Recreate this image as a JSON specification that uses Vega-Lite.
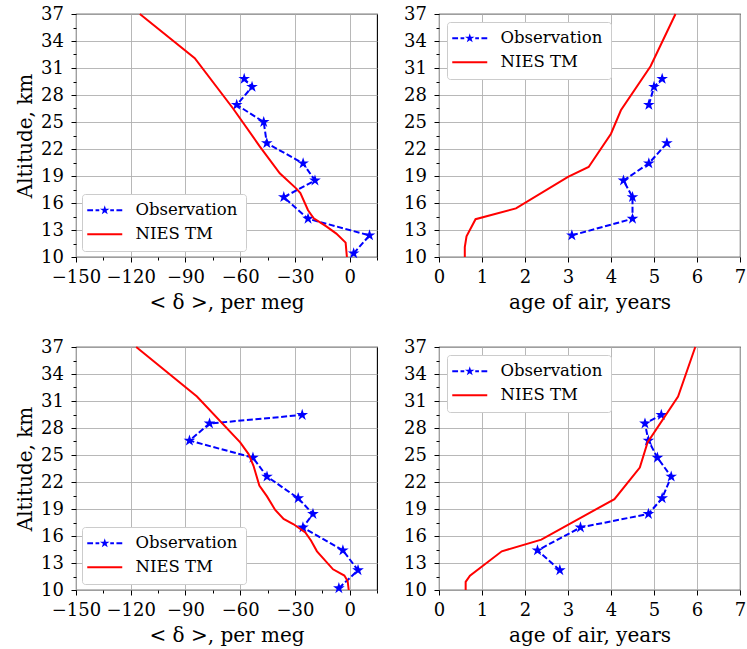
{
  "$schema": "https://vega.github.io/schema/vega-lite/v6.json",
  "autosize": {"type": "none"},
  "padding": {"left": 76, "top": 14, "right": 671, "bottom": 635},
  "background": "white",
  "datasets": {
    "d": [
      {"p":"tl","s":"Observation","a":29.8,"v":-57.8},
      {"p":"tl","s":"Observation","a":28.9,"v":-53.5},
      {"p":"tl","s":"Observation","a":26.9,"v":-61.9},
      {"p":"tl","s":"Observation","a":25.0,"v":-47.1},
      {"p":"tl","s":"Observation","a":22.65,"v":-45.4},
      {"p":"tl","s":"Observation","a":20.4,"v":-25.5},
      {"p":"tl","s":"Observation","a":18.5,"v":-19.0},
      {"p":"tl","s":"Observation","a":16.65,"v":-36.1},
      {"p":"tl","s":"Observation","a":14.25,"v":-22.8},
      {"p":"tl","s":"Observation","a":12.4,"v":10.9},
      {"p":"tl","s":"Observation","a":10.4,"v":2.2},
      {"p":"tl","s":"NIES TM","a":37,"v":-115},
      {"p":"tl","s":"NIES TM","a":32.1,"v":-84.9},
      {"p":"tl","s":"NIES TM","a":26.5,"v":-63.9},
      {"p":"tl","s":"NIES TM","a":22.3,"v":-49.3},
      {"p":"tl","s":"NIES TM","a":19.3,"v":-38.3},
      {"p":"tl","s":"NIES TM","a":17.6,"v":-29.2},
      {"p":"tl","s":"NIES TM","a":17.1,"v":-27.0},
      {"p":"tl","s":"NIES TM","a":15.2,"v":-22.8},
      {"p":"tl","s":"NIES TM","a":14.3,"v":-19.7},
      {"p":"tl","s":"NIES TM","a":13.4,"v":-12.8},
      {"p":"tl","s":"NIES TM","a":12.6,"v":-7.3},
      {"p":"tl","s":"NIES TM","a":11.6,"v":-2.2},
      {"p":"tl","s":"NIES TM","a":10,"v":-1.5},
      {"p":"tr","s":"Observation","a":29.8,"v":5.19},
      {"p":"tr","s":"Observation","a":28.9,"v":5.0},
      {"p":"tr","s":"Observation","a":26.9,"v":4.88},
      {"p":"tr","s":"Observation","a":25.0,"v":null},
      {"p":"tr","s":"Observation","a":22.65,"v":5.3},
      {"p":"tr","s":"Observation","a":20.4,"v":4.88},
      {"p":"tr","s":"Observation","a":18.5,"v":4.29},
      {"p":"tr","s":"Observation","a":16.65,"v":4.5},
      {"p":"tr","s":"Observation","a":14.25,"v":4.5},
      {"p":"tr","s":"Observation","a":12.4,"v":3.09},
      {"p":"tr","s":"NIES TM","a":37,"v":5.5},
      {"p":"tr","s":"NIES TM","a":31.2,"v":4.92},
      {"p":"tr","s":"NIES TM","a":26.3,"v":4.23},
      {"p":"tr","s":"NIES TM","a":23.7,"v":4.0},
      {"p":"tr","s":"NIES TM","a":20.0,"v":3.48},
      {"p":"tr","s":"NIES TM","a":18.9,"v":3.0},
      {"p":"tr","s":"NIES TM","a":15.4,"v":1.79},
      {"p":"tr","s":"NIES TM","a":14.2,"v":0.85},
      {"p":"tr","s":"NIES TM","a":12.3,"v":0.64},
      {"p":"tr","s":"NIES TM","a":11.1,"v":0.6},
      {"p":"tr","s":"NIES TM","a":10,"v":0.6},
      {"p":"bl","s":"Observation","a":29.45,"v":-26.0},
      {"p":"bl","s":"Observation","a":28.5,"v":-76.8},
      {"p":"bl","s":"Observation","a":26.6,"v":-87.8},
      {"p":"bl","s":"Observation","a":24.7,"v":-53.0},
      {"p":"bl","s":"Observation","a":22.6,"v":-45.3},
      {"p":"bl","s":"Observation","a":20.2,"v":-28.2},
      {"p":"bl","s":"Observation","a":18.45,"v":-20.1},
      {"p":"bl","s":"Observation","a":16.95,"v":-25.6},
      {"p":"bl","s":"Observation","a":14.4,"v":-3.7},
      {"p":"bl","s":"Observation","a":12.2,"v":4.6},
      {"p":"bl","s":"Observation","a":10.2,"v":-5.9},
      {"p":"bl","s":"NIES TM","a":37,"v":-117},
      {"p":"bl","s":"NIES TM","a":31.5,"v":-83.7},
      {"p":"bl","s":"NIES TM","a":26.4,"v":-60.0},
      {"p":"bl","s":"NIES TM","a":25.1,"v":-55.4},
      {"p":"bl","s":"NIES TM","a":23.8,"v":-52.7},
      {"p":"bl","s":"NIES TM","a":21.6,"v":-49.5},
      {"p":"bl","s":"NIES TM","a":20.4,"v":-45.3},
      {"p":"bl","s":"NIES TM","a":18.9,"v":-40.8},
      {"p":"bl","s":"NIES TM","a":17.9,"v":-36.2},
      {"p":"bl","s":"NIES TM","a":17.3,"v":-30.7},
      {"p":"bl","s":"NIES TM","a":16.4,"v":-24.3},
      {"p":"bl","s":"NIES TM","a":15.5,"v":-21.2},
      {"p":"bl","s":"NIES TM","a":14.3,"v":-17.9},
      {"p":"bl","s":"NIES TM","a":12.3,"v":-9.1},
      {"p":"bl","s":"NIES TM","a":11.6,"v":-2.9},
      {"p":"bl","s":"NIES TM","a":11.0,"v":-1.1},
      {"p":"bl","s":"NIES TM","a":10,"v":-0.5},
      {"p":"br","s":"Observation","a":29.45,"v":5.17},
      {"p":"br","s":"Observation","a":28.5,"v":4.79},
      {"p":"br","s":"Observation","a":26.6,"v":4.87},
      {"p":"br","s":"Observation","a":24.7,"v":5.08},
      {"p":"br","s":"Observation","a":22.6,"v":5.4},
      {"p":"br","s":"Observation","a":20.2,"v":5.19},
      {"p":"br","s":"Observation","a":18.45,"v":4.87},
      {"p":"br","s":"Observation","a":16.95,"v":3.29},
      {"p":"br","s":"Observation","a":14.4,"v":2.29},
      {"p":"br","s":"Observation","a":12.2,"v":2.81},
      {"p":"br","s":"NIES TM","a":37,"v":5.96},
      {"p":"br","s":"NIES TM","a":31.5,"v":5.56},
      {"p":"br","s":"NIES TM","a":26.4,"v":4.85},
      {"p":"br","s":"NIES TM","a":23.6,"v":4.67},
      {"p":"br","s":"NIES TM","a":20.1,"v":4.08},
      {"p":"br","s":"NIES TM","a":15.6,"v":2.38},
      {"p":"br","s":"NIES TM","a":14.3,"v":1.46},
      {"p":"br","s":"NIES TM","a":11.6,"v":0.72},
      {"p":"br","s":"NIES TM","a":10.9,"v":0.62},
      {"p":"br","s":"NIES TM","a":10,"v":0.62}
    ]
  },
  "data": {"name": "d"},
  "columns": 2,
  "spacing": {"row": 90, "column": 62},
  "bounds": "flush",
  "resolve": {"scale": {"color": "independent", "x": "independent", "y": "independent"}, "legend": {"color": "independent"}},
  "concat": [
    {
      "width": 301, "height": 243,
      "transform": [{"filter": "datum.p === 'tl'"}],
      "encoding": {
        "x": {"field": "v", "type": "quantitative", "scale": {"domain": [-150, 15], "nice": false, "zero": false},
          "axis": {"title": "< δ >, per meg", "format": "d", "values": [-150,-135,-120,-105,-90,-75,-60,-45,-30,-15,0,15],
            "labelExpr": "datum.value % 30 === 0 ? datum.label : ''",
            "tickSize": {"condition": {"test": "datum.value % 30 === 0", "value": 5}, "value": 3},
            "gridOpacity": {"condition": {"test": "datum.value % 30 === 0", "value": 1}, "value": 0}}},
        "y": {"field": "a", "type": "quantitative", "scale": {"domain": [10, 37], "nice": false, "zero": false},
          "axis": {"title": "Altitude, km", "format": "d", "values": [10,11.5,13,14.5,16,17.5,19,20.5,22,23.5,25,26.5,28,29.5,31,32.5,34,35.5,37],
            "labelExpr": "(datum.value - 10) % 3 === 0 ? datum.label : ''",
            "tickSize": {"condition": {"test": "(datum.value - 10) % 3 === 0", "value": 5}, "value": 3},
            "gridOpacity": {"condition": {"test": "(datum.value - 10) % 3 === 0", "value": 1}, "value": 0}}},
        "color": {"field": "s", "type": "nominal", "scale": {"domain": ["Observation", "NIES TM"], "range": ["#0000ff", "#ff0000"]},
          "legend": {"orient": "bottom-left", "offset": 6,
            "encode": {"symbols": {"update": {
              "shape": {"signal": "datum.value === 'Observation' ? 'M-1.375,-0.13L-0.65,-0.13L-0.65,0.13L-1.375,0.13Z M-0.3375,-0.13L0.125,-0.13L0.125,0.13L-0.3375,0.13Z M1.5,-0.13L1.9625,-0.13L1.9625,0.13L1.5,0.13Z M2.275,-0.13L3,-0.13L3,0.13L2.275,0.13Z M0.8125,-0.625L0.9528,-0.1931L1.4069,-0.1931L1.0395,0.0738L1.1799,0.5056L0.8125,0.2387L0.4451,0.5056L0.5855,0.0738L0.2181,-0.1931L0.6722,-0.1931Z' : 'M-1.375,-0.13L3,-0.13L3,0.13L-1.375,0.13Z'"},
              "fill": {"signal": "datum.value === 'Observation' ? '#0000ff' : '#ff0000'"},
              "fillOpacity": {"value": 1}, "opacity": {"value": 1},
              "stroke": {"value": "transparent"}, "strokeWidth": {"value": 0}}}}}}
      },
      "layer": [
        {"transform": [{"filter": "datum.s === 'Observation'"}], "mark": {"type": "line", "strokeWidth": 2, "strokeDash": [6, 2.6], "invalid": "break-paths-filter-domains"}, "encoding": {"order": {"field": "a", "type": "quantitative"}}},
        {"transform": [{"filter": "datum.s === 'Observation' && isValid(datum.v)"}], "mark": {"type": "point", "shape": "M0,-1L0.2245,-0.309L0.951,-0.309L0.363,0.118L0.588,0.809L0,0.382L-0.588,0.809L-0.363,0.118L-0.951,-0.309L-0.2245,-0.309Z", "filled": true, "size": 150, "opacity": 1, "strokeWidth": 0}},
        {"transform": [{"filter": "datum.s === 'NIES TM'"}], "mark": {"type": "line", "strokeWidth": 2}, "encoding": {"order": {"field": "a", "type": "quantitative"}}}
      ]
    },
    {
      "width": 301, "height": 243,
      "transform": [{"filter": "datum.p === 'tr'"}],
      "encoding": {
        "x": {"field": "v", "type": "quantitative", "scale": {"domain": [0, 7], "nice": false, "zero": false},
          "axis": {"title": "age of air, years", "format": "d", "values": [0,0.5,1,1.5,2,2.5,3,3.5,4,4.5,5,5.5,6,6.5,7],
            "labelExpr": "datum.value % 1 === 0 ? datum.label : ''",
            "tickSize": {"condition": {"test": "datum.value % 1 === 0", "value": 5}, "value": 3},
            "gridOpacity": {"condition": {"test": "datum.value % 1 === 0", "value": 1}, "value": 0}}},
        "y": {"field": "a", "type": "quantitative", "scale": {"domain": [10, 37], "nice": false, "zero": false},
          "axis": {"title": null, "format": "d", "values": [10,11.5,13,14.5,16,17.5,19,20.5,22,23.5,25,26.5,28,29.5,31,32.5,34,35.5,37],
            "labelExpr": "(datum.value - 10) % 3 === 0 ? datum.label : ''",
            "tickSize": {"condition": {"test": "(datum.value - 10) % 3 === 0", "value": 5}, "value": 3},
            "gridOpacity": {"condition": {"test": "(datum.value - 10) % 3 === 0", "value": 1}, "value": 0}}},
        "color": {"field": "s", "type": "nominal", "scale": {"domain": ["Observation", "NIES TM"], "range": ["#0000ff", "#ff0000"]},
          "legend": {"orient": "top-left", "offset": 8,
            "encode": {"symbols": {"update": {
              "shape": {"signal": "datum.value === 'Observation' ? 'M-1.375,-0.13L-0.65,-0.13L-0.65,0.13L-1.375,0.13Z M-0.3375,-0.13L0.125,-0.13L0.125,0.13L-0.3375,0.13Z M1.5,-0.13L1.9625,-0.13L1.9625,0.13L1.5,0.13Z M2.275,-0.13L3,-0.13L3,0.13L2.275,0.13Z M0.8125,-0.625L0.9528,-0.1931L1.4069,-0.1931L1.0395,0.0738L1.1799,0.5056L0.8125,0.2387L0.4451,0.5056L0.5855,0.0738L0.2181,-0.1931L0.6722,-0.1931Z' : 'M-1.375,-0.13L3,-0.13L3,0.13L-1.375,0.13Z'"},
              "fill": {"signal": "datum.value === 'Observation' ? '#0000ff' : '#ff0000'"},
              "fillOpacity": {"value": 1}, "opacity": {"value": 1},
              "stroke": {"value": "transparent"}, "strokeWidth": {"value": 0}}}}}}
      },
      "layer": [
        {"transform": [{"filter": "datum.s === 'Observation'"}], "mark": {"type": "line", "strokeWidth": 2, "strokeDash": [6, 2.6], "invalid": "break-paths-filter-domains"}, "encoding": {"order": {"field": "a", "type": "quantitative"}}},
        {"transform": [{"filter": "datum.s === 'Observation' && isValid(datum.v)"}], "mark": {"type": "point", "shape": "M0,-1L0.2245,-0.309L0.951,-0.309L0.363,0.118L0.588,0.809L0,0.382L-0.588,0.809L-0.363,0.118L-0.951,-0.309L-0.2245,-0.309Z", "filled": true, "size": 150, "opacity": 1, "strokeWidth": 0}},
        {"transform": [{"filter": "datum.s === 'NIES TM'"}], "mark": {"type": "line", "strokeWidth": 2}, "encoding": {"order": {"field": "a", "type": "quantitative"}}}
      ]
    },
    {
      "width": 301, "height": 243,
      "transform": [{"filter": "datum.p === 'bl'"}],
      "encoding": {
        "x": {"field": "v", "type": "quantitative", "scale": {"domain": [-150, 15], "nice": false, "zero": false},
          "axis": {"title": "< δ >, per meg", "format": "d", "values": [-150,-135,-120,-105,-90,-75,-60,-45,-30,-15,0,15],
            "labelExpr": "datum.value % 30 === 0 ? datum.label : ''",
            "tickSize": {"condition": {"test": "datum.value % 30 === 0", "value": 5}, "value": 3},
            "gridOpacity": {"condition": {"test": "datum.value % 30 === 0", "value": 1}, "value": 0}}},
        "y": {"field": "a", "type": "quantitative", "scale": {"domain": [10, 37], "nice": false, "zero": false},
          "axis": {"title": "Altitude, km", "format": "d", "values": [10,11.5,13,14.5,16,17.5,19,20.5,22,23.5,25,26.5,28,29.5,31,32.5,34,35.5,37],
            "labelExpr": "(datum.value - 10) % 3 === 0 ? datum.label : ''",
            "tickSize": {"condition": {"test": "(datum.value - 10) % 3 === 0", "value": 5}, "value": 3},
            "gridOpacity": {"condition": {"test": "(datum.value - 10) % 3 === 0", "value": 1}, "value": 0}}},
        "color": {"field": "s", "type": "nominal", "scale": {"domain": ["Observation", "NIES TM"], "range": ["#0000ff", "#ff0000"]},
          "legend": {"orient": "bottom-left", "offset": 6,
            "encode": {"symbols": {"update": {
              "shape": {"signal": "datum.value === 'Observation' ? 'M-1.375,-0.13L-0.65,-0.13L-0.65,0.13L-1.375,0.13Z M-0.3375,-0.13L0.125,-0.13L0.125,0.13L-0.3375,0.13Z M1.5,-0.13L1.9625,-0.13L1.9625,0.13L1.5,0.13Z M2.275,-0.13L3,-0.13L3,0.13L2.275,0.13Z M0.8125,-0.625L0.9528,-0.1931L1.4069,-0.1931L1.0395,0.0738L1.1799,0.5056L0.8125,0.2387L0.4451,0.5056L0.5855,0.0738L0.2181,-0.1931L0.6722,-0.1931Z' : 'M-1.375,-0.13L3,-0.13L3,0.13L-1.375,0.13Z'"},
              "fill": {"signal": "datum.value === 'Observation' ? '#0000ff' : '#ff0000'"},
              "fillOpacity": {"value": 1}, "opacity": {"value": 1},
              "stroke": {"value": "transparent"}, "strokeWidth": {"value": 0}}}}}}
      },
      "layer": [
        {"transform": [{"filter": "datum.s === 'Observation'"}], "mark": {"type": "line", "strokeWidth": 2, "strokeDash": [6, 2.6], "invalid": "break-paths-filter-domains"}, "encoding": {"order": {"field": "a", "type": "quantitative"}}},
        {"transform": [{"filter": "datum.s === 'Observation' && isValid(datum.v)"}], "mark": {"type": "point", "shape": "M0,-1L0.2245,-0.309L0.951,-0.309L0.363,0.118L0.588,0.809L0,0.382L-0.588,0.809L-0.363,0.118L-0.951,-0.309L-0.2245,-0.309Z", "filled": true, "size": 150, "opacity": 1, "strokeWidth": 0}},
        {"transform": [{"filter": "datum.s === 'NIES TM'"}], "mark": {"type": "line", "strokeWidth": 2}, "encoding": {"order": {"field": "a", "type": "quantitative"}}}
      ]
    },
    {
      "width": 301, "height": 243,
      "transform": [{"filter": "datum.p === 'br'"}],
      "encoding": {
        "x": {"field": "v", "type": "quantitative", "scale": {"domain": [0, 7], "nice": false, "zero": false},
          "axis": {"title": "age of air, years", "format": "d", "values": [0,0.5,1,1.5,2,2.5,3,3.5,4,4.5,5,5.5,6,6.5,7],
            "labelExpr": "datum.value % 1 === 0 ? datum.label : ''",
            "tickSize": {"condition": {"test": "datum.value % 1 === 0", "value": 5}, "value": 3},
            "gridOpacity": {"condition": {"test": "datum.value % 1 === 0", "value": 1}, "value": 0}}},
        "y": {"field": "a", "type": "quantitative", "scale": {"domain": [10, 37], "nice": false, "zero": false},
          "axis": {"title": null, "format": "d", "values": [10,11.5,13,14.5,16,17.5,19,20.5,22,23.5,25,26.5,28,29.5,31,32.5,34,35.5,37],
            "labelExpr": "(datum.value - 10) % 3 === 0 ? datum.label : ''",
            "tickSize": {"condition": {"test": "(datum.value - 10) % 3 === 0", "value": 5}, "value": 3},
            "gridOpacity": {"condition": {"test": "(datum.value - 10) % 3 === 0", "value": 1}, "value": 0}}},
        "color": {"field": "s", "type": "nominal", "scale": {"domain": ["Observation", "NIES TM"], "range": ["#0000ff", "#ff0000"]},
          "legend": {"orient": "top-left", "offset": 8,
            "encode": {"symbols": {"update": {
              "shape": {"signal": "datum.value === 'Observation' ? 'M-1.375,-0.13L-0.65,-0.13L-0.65,0.13L-1.375,0.13Z M-0.3375,-0.13L0.125,-0.13L0.125,0.13L-0.3375,0.13Z M1.5,-0.13L1.9625,-0.13L1.9625,0.13L1.5,0.13Z M2.275,-0.13L3,-0.13L3,0.13L2.275,0.13Z M0.8125,-0.625L0.9528,-0.1931L1.4069,-0.1931L1.0395,0.0738L1.1799,0.5056L0.8125,0.2387L0.4451,0.5056L0.5855,0.0738L0.2181,-0.1931L0.6722,-0.1931Z' : 'M-1.375,-0.13L3,-0.13L3,0.13L-1.375,0.13Z'"},
              "fill": {"signal": "datum.value === 'Observation' ? '#0000ff' : '#ff0000'"},
              "fillOpacity": {"value": 1}, "opacity": {"value": 1},
              "stroke": {"value": "transparent"}, "strokeWidth": {"value": 0}}}}}}
      },
      "layer": [
        {"transform": [{"filter": "datum.s === 'Observation'"}], "mark": {"type": "line", "strokeWidth": 2, "strokeDash": [6, 2.6], "invalid": "break-paths-filter-domains"}, "encoding": {"order": {"field": "a", "type": "quantitative"}}},
        {"transform": [{"filter": "datum.s === 'Observation' && isValid(datum.v)"}], "mark": {"type": "point", "shape": "M0,-1L0.2245,-0.309L0.951,-0.309L0.363,0.118L0.588,0.809L0,0.382L-0.588,0.809L-0.363,0.118L-0.951,-0.309L-0.2245,-0.309Z", "filled": true, "size": 150, "opacity": 1, "strokeWidth": 0}},
        {"transform": [{"filter": "datum.s === 'NIES TM'"}], "mark": {"type": "line", "strokeWidth": 2}, "encoding": {"order": {"field": "a", "type": "quantitative"}}}
      ]
    }
  ],
  "config": {
    "font": "DejaVu Serif",
    "view": {"stroke": "black", "strokeWidth": 1.1},
    "axis": {
      "domain": false, "grid": true,
      "labelFont": "DejaVu Serif", "labelFontSize": 18, "labelColor": "black",
      "titleFont": "DejaVu Serif", "titleFontSize": 20, "titleFontWeight": "normal", "titleColor": "black",
      "tickColor": "black", "tickWidth": 1,
      "gridColor": "#b0b0b0", "gridWidth": 0.9,
      "labelFlush": false, "labelOverlap": false
    },
    "axisX": {"labelPadding": 6, "titlePadding": 6},
    "axisY": {"labelPadding": 7.5, "titlePadding": 5},
    "legend": {
      "title": null,
      "labelFont": "DejaVu Serif", "labelFontSize": 16.5, "labelColor": "black", "labelLimit": 300,
      "fillColor": "white", "strokeColor": "#cccccc", "cornerRadius": 3, "padding": 8,
      "symbolSize": 256, "labelOffset": 29, "rowPadding": 7
    }
  }
}
